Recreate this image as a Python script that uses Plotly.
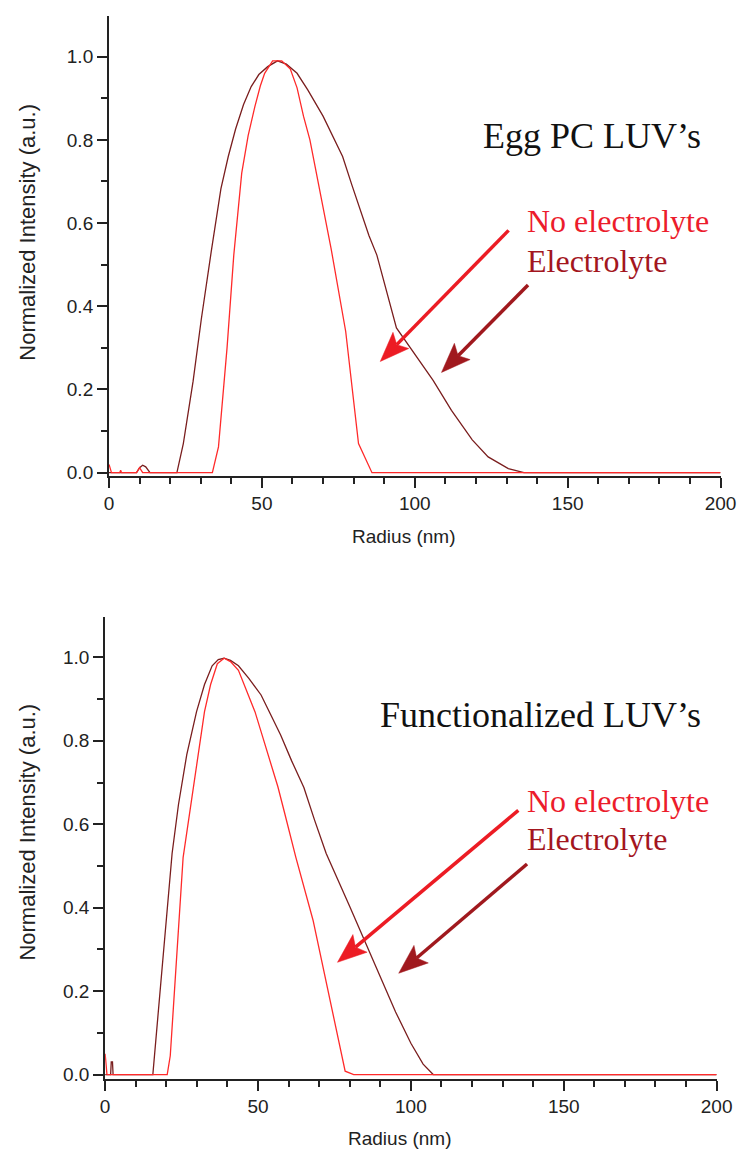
import math
import plotly.graph_objects as go

W, H = 755, 1159

# ---------------- data ----------------
# Top panel: Egg PC LUV's
top_noelec_x = [0, 0.8, 3.5, 3.8, 4.1, 9, 10, 11, 33.8, 35.8, 38.6, 40.8, 43.4, 45.5, 47.7, 49.5,
                50.9, 53.5, 56.5, 59.3, 61.5, 63.6, 65.7, 68.8, 72.6, 77.4, 81.6, 86, 200]
top_noelec_y = [0.02, 0, 0, 0.006, 0, 0, 0.012, 0, 0, 0.062, 0.30, 0.523, 0.72, 0.81, 0.88, 0.93,
                0.96, 0.99, 0.99, 0.97, 0.925, 0.857, 0.80, 0.68, 0.54, 0.34, 0.07, 0, 0]

top_elec_x = [0, 9, 10, 11, 12, 13.4, 22.2, 24.3, 27.5, 30.2, 33.4, 36.6, 39, 41.4, 44, 46.5, 49,
              51.9, 55.1, 58, 61.5, 65, 70, 73, 76.4, 79.5, 82.8, 85, 87.6, 94, 106, 112, 118.8,
              124, 130.6, 135.7, 200]
top_elec_y = [0, 0, 0.012, 0.018, 0.014, 0, 0, 0.07, 0.22, 0.37, 0.53, 0.683, 0.76, 0.826, 0.885,
              0.928, 0.957, 0.976, 0.99, 0.982, 0.96, 0.92, 0.857, 0.81, 0.76, 0.69, 0.618, 0.57,
              0.523, 0.348, 0.222, 0.15, 0.079, 0.038, 0.01, 0, 0]

# Bottom panel: Functionalized LUV's
bot_noelec_x = [0, 0.6, 20.3, 21.3, 25.5, 27.7, 29.9, 32.5, 34.5, 36.7, 38.9, 41, 43.6, 46, 49,
                51.5, 54.1, 56.5, 58.6, 62.4, 68, 73.2, 78.5, 81.3, 200]
bot_noelec_y = [0.05, 0, 0, 0.045, 0.52, 0.63, 0.75, 0.87, 0.935, 0.985, 0.998, 0.99, 0.969, 0.925,
                0.87, 0.81, 0.75, 0.69, 0.63, 0.52, 0.37, 0.19, 0.008, 0, 0]

bot_elec_x = [0, 1.8, 2.0, 2.4, 2.6, 15.6, 21.9, 24, 26.7, 29.9, 32.5, 35, 37, 38.9, 41, 43.6, 47,
              51, 54, 57.4, 61, 65, 68.5, 72.3, 80, 88.2, 95, 100, 104, 107.3, 200]
bot_elec_y = [0, 0, 0.03, 0.03, 0, 0, 0.53, 0.648, 0.767, 0.87, 0.935, 0.98, 0.995, 0.998, 0.993,
              0.98, 0.95, 0.91, 0.865, 0.814, 0.752, 0.688, 0.61, 0.53, 0.403, 0.267, 0.15, 0.075,
              0.025, 0, 0]

x_ticks = [0, 50, 100, 150, 200]
y_ticks = [0.0, 0.2, 0.4, 0.6, 0.8, 1.0]

x_title = "Radius (nm)"
y_title = "Normalized Intensity (a.u.)"
panel_titles = ["Egg PC LUV’s", "Functionalized LUV’s"]
legend_labels = ["No electrolyte", "Electrolyte"]

# ---------------- style ----------------
RED_LINE = "#ff2a2a"
DARK_LINE = "#7a1e1e"
RED_TXT = "#ec1c2c"
DARK_TXT = "#a3161e"
RED_ARROW = "#ec1c24"
DARK_ARROW = "#a0191e"
AXIS = "#222222"
SANS = "Liberation Sans, Arial, sans-serif"
SERIF = "Liberation Serif, Times New Roman, serif"


def px(xp):
    return xp / W


def py(yp):
    return 1 - yp / H


fig = go.Figure()
fig.add_trace(go.Scatter(x=top_elec_x, y=top_elec_y, mode="lines",
                         line=dict(color=DARK_LINE, width=1.3), xaxis="x", yaxis="y"))
fig.add_trace(go.Scatter(x=top_noelec_x, y=top_noelec_y, mode="lines",
                         line=dict(color=RED_LINE, width=1.3), xaxis="x", yaxis="y"))
fig.add_trace(go.Scatter(x=bot_elec_x, y=bot_elec_y, mode="lines",
                         line=dict(color=DARK_LINE, width=1.3), xaxis="x2", yaxis="y2"))
fig.add_trace(go.Scatter(x=bot_noelec_x, y=bot_noelec_y, mode="lines",
                         line=dict(color=RED_LINE, width=1.3), xaxis="x2", yaxis="y2"))

xcommon = dict(range=[0, 200], tickvals=x_ticks, ticktext=[str(v) for v in x_ticks],
               showgrid=False, zeroline=False, showline=True, linecolor=AXIS, linewidth=2,
               ticks="outside", ticklen=10, tickwidth=1.5, tickcolor=AXIS,
               tickfont=dict(family=SANS, size=19, color="#222"),
               minor=dict(dtick=10, tick0=0, ticks="outside", ticklen=6, tickwidth=1.5,
                          tickcolor=AXIS, showgrid=False))
ycommon = dict(tickvals=y_ticks, ticktext=["%.1f" % v for v in y_ticks],
               showgrid=False, zeroline=False, showline=True, linecolor=AXIS, linewidth=2,
               ticks="outside", ticklen=10, tickwidth=1.5, tickcolor=AXIS,
               tickfont=dict(family=SANS, size=19, color="#222"),
               minor=dict(dtick=0.1, tick0=0, ticks="outside", ticklen=6, tickwidth=1.5,
                          tickcolor=AXIS, showgrid=False))

fig.update_layout(
    width=W, height=H, margin=dict(l=0, r=0, t=0, b=0),
    paper_bgcolor="white", plot_bgcolor="white", showlegend=False,
    xaxis=dict(domain=[px(107), px(736)], anchor="y", **xcommon),
    yaxis=dict(domain=[py(479), py(16)], range=[-0.0072, 1.098], anchor="x", **ycommon),
    xaxis2=dict(domain=[px(103), px(732)], anchor="y2", **xcommon),
    yaxis2=dict(domain=[py(1086), py(621)], range=[-0.0095, 1.0976], anchor="x2", **ycommon),
)

ann = []
# axis titles
for cx, cy in [(410, 540), (406, 1146)]:
    ann.append(dict(text=x_title, x=px(cx), y=py(cy), xref="paper", yref="paper",
                    xanchor="center", yanchor="middle", showarrow=False,
                    font=dict(family=SANS, size=19, color="#222")))
for cx, cy in [(23, 234), (23, 838)]:
    ann.append(dict(text=y_title, x=px(cx), y=py(cy), xref="paper", yref="paper",
                    xanchor="center", yanchor="middle", showarrow=False, textangle=-90,
                    font=dict(family=SANS, size=22, color="#222")))
# panel titles and labels
for title, ty, ly1, ly2 in [(panel_titles[0], 137, 223, 263), (panel_titles[1], 720, 807, 845)]:
    ann.append(dict(text=title, x=px(718), y=py(ty), xref="paper", yref="paper",
                    xanchor="right", yanchor="middle", showarrow=False,
                    font=dict(family=SERIF, size=36, color="#111")))
    ann.append(dict(text=legend_labels[0], x=px(535), y=py(ly1), xref="paper", yref="paper",
                    xanchor="left", yanchor="middle", showarrow=False,
                    font=dict(family=SERIF, size=32, color=RED_TXT)))
    ann.append(dict(text=legend_labels[1], x=px(535), y=py(ly2), xref="paper", yref="paper",
                    xanchor="left", yanchor="middle", showarrow=False,
                    font=dict(family=SERIF, size=32, color=DARK_TXT)))
fig.update_layout(annotations=ann)

# arrows (tail, tip in pixels)
arrows = [((518, 232), (386, 364), RED_ARROW),
          ((538, 287), (449, 375), DARK_ARROW),
          ((528, 816), (342, 969), RED_ARROW),
          ((537, 870), (405, 980), DARK_ARROW)]
shapes = []
HEAD_L, HEAD_W, NOTCH = 30, 23, 6
for (tx, ty), (hx, hy), col in arrows:
    dx, dy = hx - tx, hy - ty
    L = math.hypot(dx, dy)
    ux, uy = dx / L, dy / L
    nx, ny = -uy, ux
    bx, by = hx - ux * HEAD_L, hy - uy * HEAD_L
    shapes.append(dict(type="line", xref="paper", yref="paper",
                       x0=px(tx), y0=py(ty), x1=px(bx + ux * NOTCH), y1=py(by + uy * NOTCH),
                       line=dict(color=col, width=3.5)))
    p1 = (bx + nx * HEAD_W / 2, by + ny * HEAD_W / 2)
    p2 = (bx - nx * HEAD_W / 2, by - ny * HEAD_W / 2)
    pn = (bx + ux * NOTCH, by + uy * NOTCH)
    path = "M %f %f L %f %f L %f %f L %f %f Z" % (
        px(hx), py(hy), px(p1[0]), py(p1[1]), px(pn[0]), py(pn[1]), px(p2[0]), py(p2[1]))
    shapes.append(dict(type="path", xref="paper", yref="paper", path=path,
                       fillcolor=col, line=dict(color=col, width=0.5)))
fig.update_layout(shapes=shapes)

fig.write_html("out.html")
